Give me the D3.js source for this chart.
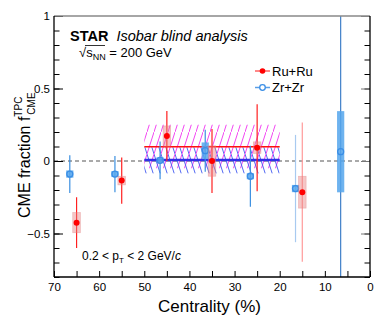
<!DOCTYPE html>
<html>
<head>
<meta charset="utf-8">
<script src="https://cdn.jsdelivr.net/npm/d3@7"></script>
<style>
  body { margin: 0; background: #fff; }
  svg { font-family: "Liberation Sans", Arial, sans-serif; }
</style>
</head>
<body>
<svg id="chart" width="390" height="319"></svg>
<script>
// Ru+Ru points
const ruCent = [65, 55, 45, 35, 25, 15]
const ruVal = [-0.425, -0.135, 0.172, 0.0, 0.092, -0.215]
const ruStat = [0.175, 0.16, 0.172, 0.22, 0.30, 0.48]
const ruSys = [0.07, 0.03, 0.07, 0.105, 0.04, 0.11]

// Zr+Zr points
const zrCent = [66.5, 56.5, 46.5, 36.5, 26.5, 16.5, 6.5]
const zrVal = [-0.09, -0.09, 0.005, 0.071, -0.105, -0.19, 0.064]
const zrStat = [0.13, 0.125, 0.13, 0.145, 0.21, 0.37, 1.2]
const zrSys = [0.025, 0.012, 0.02, 0.057, 0.02, 0.025, 0.28]

// combined 20-50% results
const bandCent = [50, 20]
const ruMean = 0.098
const ruBand = [-0.05, 0.25]
const zrMean = 0.007
const zrBand = [-0.085, 0.095]

const xMajor = [70, 60, 50, 40, 30, 20, 10, 0]
const yMajor = [-0.5, 0, 0.5, 1]
const yLabels = ["\u22120.5", "0", "0.5", "1"]

const margin = { left: 54, right: 20, top: 16, bottom: 42 }
const width = 390
const height = 319

const x = d3.scaleLinear().domain([70, 0]).range([margin.left, width - margin.right])
const y = d3.scaleLinear().domain([-0.8, 1]).range([height - margin.bottom, margin.top])

const svg = d3.select("#chart")

const ru = ruCent.map((c, i) => ({ c: c, v: ruVal[i], stat: ruStat[i], sys: ruSys[i] }))
const zr = zrCent.map((c, i) => ({ c: c, v: zrVal[i], stat: zrStat[i], sys: zrSys[i] }))

// hatch patterns
const defs = svg.append("defs")
defs.append("clipPath").attr("id", "plotClip")
  .append("rect")
  .attr("x", x(70)).attr("y", y(1))
  .attr("width", x(0) - x(70)).attr("height", y(-0.8) - y(1))

defs.append("pattern")
  .attr("id", "hatchRu")
  .attr("patternUnits", "userSpaceOnUse")
  .attr("width", 7).attr("height", 22)
  .append("path")
  .attr("d", "M-0.3,22.9 L7.3,-0.9")
  .attr("stroke", "#f030f0")
  .attr("stroke-width", 0.9)

defs.append("pattern")
  .attr("id", "hatchZr")
  .attr("patternUnits", "userSpaceOnUse")
  .attr("width", 7).attr("height", 22)
  .append("path")
  .attr("d", "M-0.3,-0.9 L7.3,22.9")
  .attr("stroke", "#4058f0")
  .attr("stroke-width", 0.9)

// bands
svg.append("rect")
  .attr("x", x(bandCent[0])).attr("width", x(bandCent[1]) - x(bandCent[0]))
  .attr("y", y(ruBand[1])).attr("height", y(ruBand[0]) - y(ruBand[1]))
  .attr("fill", "url(#hatchRu)")

svg.append("rect")
  .attr("x", x(bandCent[0])).attr("width", x(bandCent[1]) - x(bandCent[0]))
  .attr("y", y(zrBand[1])).attr("height", y(zrBand[0]) - y(zrBand[1]))
  .attr("fill", "url(#hatchZr)")

// zero line
svg.append("line")
  .attr("x1", x(70)).attr("x2", x(0))
  .attr("y1", y(0)).attr("y2", y(0))
  .attr("stroke", "#555")
  .attr("stroke-width", 1)
  .attr("stroke-dasharray", "4,3")

svg.append("line")
  .attr("x1", x(bandCent[0])).attr("x2", x(bandCent[1]))
  .attr("y1", y(ruMean)).attr("y2", y(ruMean))
  .attr("stroke", "#ff1010").attr("stroke-width", 1.6)

svg.append("line")
  .attr("x1", x(bandCent[0])).attr("x2", x(bandCent[1]))
  .attr("y1", y(zrMean)).attr("y2", y(zrMean))
  .attr("stroke", "#3030e8").attr("stroke-width", 2.4)

const pts = svg.append("g").attr("clip-path", "url(#plotClip)")

// faded look for the 10-20% bin, darker bar for the most central one
function zrLine(d) {
  if (d.c < 10) return "#3f7fc8"
  if (d.c < 20) return "#a8caf0"
  return "#3b8fe0"
}
function ruLine(d) {
  return d.c < 20 ? "#ff9a9a" : "#ff2020"
}

// Zr+Zr
pts.selectAll(".zrStat").data(zr).enter().append("line")
  .attr("x1", d => x(d.c)).attr("x2", d => x(d.c))
  .attr("y1", d => y(d.v + d.stat)).attr("y2", d => y(d.v - d.stat))
  .attr("stroke", zrLine).attr("stroke-width", 1.2)

pts.selectAll(".zrSys").data(zr).enter().append("rect")
  .attr("x", d => x(d.c + 0.8)).attr("width", d => x(d.c - 0.8) - x(d.c + 0.8))
  .attr("y", d => y(d.v + d.sys)).attr("height", d => Math.max(y(d.v - d.sys) - y(d.v + d.sys), 6))
  .attr("transform", d => y(d.v - d.sys) - y(d.v + d.sys) < 6 ? `translate(0, ${-(6 - (y(d.v - d.sys) - y(d.v + d.sys))) / 2})` : null)
  .attr("fill", "#55a6ec").attr("fill-opacity", 0.85)

pts.selectAll(".zrPt").data(zr).enter().append("circle")
  .attr("cx", d => x(d.c)).attr("cy", d => y(d.v))
  .attr("r", 3)
  .attr("fill", "none")
  .attr("stroke", "#3a8ee6").attr("stroke-width", 1.3)

// Ru+Ru
pts.selectAll(".ruStat").data(ru).enter().append("line")
  .attr("x1", d => x(d.c)).attr("x2", d => x(d.c))
  .attr("y1", d => y(d.v + d.stat)).attr("y2", d => y(d.v - d.stat))
  .attr("stroke", ruLine).attr("stroke-width", 1.2)

pts.selectAll(".ruSys").data(ru).enter().append("rect")
  .attr("x", d => x(d.c + 0.85)).attr("width", d => x(d.c - 0.85) - x(d.c + 0.85))
  .attr("y", d => y(d.v + d.sys)).attr("height", d => y(d.v - d.sys) - y(d.v + d.sys))
  .attr("fill", "#e88080").attr("fill-opacity", 0.45)
  .attr("stroke", "#e08080").attr("stroke-opacity", 0.5).attr("stroke-width", 0.6)

pts.selectAll(".ruPt").data(ru).enter().append("circle")
  .attr("cx", d => x(d.c)).attr("cy", d => y(d.v))
  .attr("r", 3)
  .attr("fill", "#ff0000")

// axes
const bottom = height - margin.bottom
const xAxis = svg.append("g")
  .attr("transform", `translate(0, ${bottom})`)
  .call(d3.axisBottom(x).tickValues(d3.range(0, 71, 5)).tickSizeInner(-6).tickSizeOuter(0).tickFormat(""))
xAxis.select(".domain").remove()
xAxis.selectAll("line").attr("stroke", "#000")

const xLab = svg.append("g")
  .attr("transform", `translate(0, ${bottom})`)
  .call(d3.axisBottom(x).tickValues(xMajor).tickSize(0).tickPadding(6))
xLab.select(".domain").remove()
xLab.selectAll("text").attr("font-size", 11.5).attr("font-family", "Liberation Sans, Arial, sans-serif").attr("fill", "#000")

function yTicks(axisFn, pos) {
  const gMinor = svg.append("g").attr("transform", `translate(${pos}, 0)`)
    .call(axisFn(y).tickValues(d3.range(-8, 11).map(d => d / 10)).tickSizeInner(-5.5).tickSizeOuter(0).tickFormat(""))
  gMinor.select(".domain").remove()
  const gMajor = svg.append("g").attr("transform", `translate(${pos}, 0)`)
    .call(axisFn(y).tickValues(yMajor).tickSizeInner(-9).tickSizeOuter(0).tickFormat(""))
  gMajor.select(".domain").remove()
  return gMajor
}
yTicks(d3.axisLeft, x(70))
yTicks(d3.axisRight, x(0)).selectAll("line").attr("stroke", "#777")

svg.selectAll(".yl").data(yMajor).enter().append("text")
  .attr("x", x(70) - 4)
  .attr("y", d => y(d) + 4.2)
  .attr("text-anchor", "end")
  .attr("font-size", 11.5)
  .text((d, i) => yLabels[i])

// frame
svg.append("line").attr("x1", x(70)).attr("x2", x(0)).attr("y1", y(1)).attr("y2", y(1))
  .attr("stroke", "#888").attr("stroke-width", 1.5)
svg.append("line").attr("x1", x(70)).attr("x2", x(0)).attr("y1", bottom).attr("y2", bottom)
  .attr("stroke", "#000").attr("stroke-width", 1.3)
svg.append("line").attr("x1", x(70)).attr("x2", x(70)).attr("y1", y(1)).attr("y2", bottom)
  .attr("stroke", "#000").attr("stroke-width", 1.3)
svg.append("line").attr("x1", x(0)).attr("x2", x(0)).attr("y1", y(1)).attr("y2", bottom)
  .attr("stroke", "#000").attr("stroke-width", 1.3)

// axis titles
svg.append("text")
  .attr("x", 261).attr("y", 312)
  .attr("text-anchor", "end")
  .attr("font-size", 17)
  .text("Centrality (%)")

const yt = svg.append("text")
  .attr("transform", "translate(30, 218) rotate(-90)")
  .attr("font-size", 16)
yt.append("tspan").text("CME fraction f")
yt.append("tspan").attr("font-size", 10).attr("dy", -8).text("TPC")
yt.append("tspan").attr("font-size", 10).attr("dx", -18).attr("dy", 13).text("CME")

// labels
const title = svg.append("text").attr("x", 70).attr("y", 41).attr("font-size", 14.5)
title.append("tspan").attr("font-weight", "bold").text("STAR")
title.append("tspan").attr("font-style", "italic").attr("dx", 8).text("Isobar blind analysis")

const sq = svg.append("text").attr("x", 79).attr("y", 57).attr("font-size", 13)
sq.append("tspan").text("\u221A")
sq.append("tspan").text("s")
sq.append("tspan").attr("font-size", 9).attr("dy", 3).text("NN")
sq.append("tspan").attr("dy", -3).text(" = 200 GeV")
svg.append("line").attr("x1", 85).attr("x2", 105).attr("y1", 45.5).attr("y2", 45.5)
  .attr("stroke", "#000").attr("stroke-width", 0.8)

const pt = svg.append("text").attr("x", 82).attr("y", 260).attr("font-size", 12)
pt.append("tspan").text("0.2 < p")
pt.append("tspan").attr("font-size", 8).attr("dy", 3).text("T")
pt.append("tspan").attr("dy", -3).text(" < 2 GeV/")
pt.append("tspan").attr("font-style", "italic").text("c")

// legend
const legend = [
  { name: "Ru+Ru", y: 71, line: "#ff6060", fill: "#ff0000", stroke: "none" },
  { name: "Zr+Zr", y: 87.5, line: "#5a9ee6", fill: "none", stroke: "#3a8ee6" }
]
const lg = svg.selectAll(".lg").data(legend).enter().append("g")
lg.append("line").attr("x1", 255).attr("x2", 270).attr("y1", d => d.y).attr("y2", d => d.y)
  .attr("stroke", d => d.line).attr("stroke-width", 1.5)
lg.append("circle").attr("cx", 262.5).attr("cy", d => d.y).attr("r", 2.8)
  .attr("fill", d => d.fill === "none" ? "#fff" : d.fill)
  .attr("stroke", d => d.stroke).attr("stroke-width", 1.3)
lg.append("text").attr("x", 272).attr("y", d => d.y + 4.6).attr("font-size", 13).text(d => d.name)
</script>
</body>
</html>
